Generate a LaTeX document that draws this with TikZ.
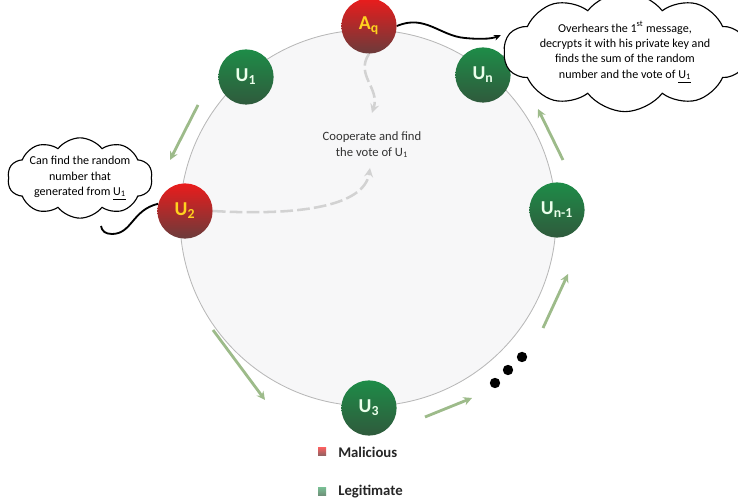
\documentclass[tikz,border=0pt]{standalone}
\usepackage{fontspec}
\setmainfont{Carlito}
\usetikzlibrary{shapes.symbols,arrows.meta,positioning}

\definecolor{usrtop}{HTML}{1E8C48}
\definecolor{usrbot}{HTML}{2F5A3C}
\definecolor{badtop}{HTML}{EA1C1C}
\definecolor{badbot}{HTML}{6B3B3B}
\definecolor{labyellow}{HTML}{FFD21F}
\definecolor{flowgreen}{HTML}{9DBB8A}
\definecolor{ringfill}{HTML}{F7F7F8}
\definecolor{ringline}{HTML}{B8B8B8}
\definecolor{hint}{HTML}{D2D2D2}

\tikzset{
  usr/.style={circle, minimum size=1.38cm, inner sep=0pt, shading=axis,
    top color=usrtop, bottom color=usrbot, text=white!92!green,
    font=\fontsize{14}{16}\selectfont\bfseries},
  bad/.style={usr, top color=badtop, bottom color=badbot, text=labyellow},
  flow/.style={-{Stealth[length=6pt,width=6pt]}, line width=2pt, draw=flowgreen},
  note/.style={cloud, cloud puffs=10, cloud puff arc=105, cloud ignores aspect,
    draw=black, line width=0.8pt, fill=white, align=center, inner sep=0pt,
    font=\fontsize{8.6}{11}\selectfont},
  dot/.style={circle, fill=black, minimum size=0.26cm, inner sep=0pt},
  key/.style={rectangle, minimum size=0.2cm, inner sep=0pt, shading=axis}
}

\begin{document}
\begin{tikzpicture}[x=0.025cm, y=-0.025cm, >=stealth]
\useasboundingbox (0,0) rectangle (738,503);
% ring
\draw[fill=ringfill, draw=ringline, line width=0.6pt] (368,218) circle [radius=4.7cm];
% users on the ring
\node (aq) at (369,26) [bad] {A\textsubscript{q}};
\node (u1) at (246,77) [usr] {U\textsubscript{1}};
\node (un) at (483,75) [usr] {U\textsubscript{n}};
\node (u2) at (185,211) [bad] {U\textsubscript{2}};
\node (unm) at (557,210) [usr] {U\textsubscript{n-1}};
\node (u3) at (369,408) [usr] {U\textsubscript{3}};
\node (d1) at (495,383) [dot] {};
\node (d2) at (508,370) [dot] {};
\node (d3) at (522,357) [dot] {};
% arrow ends
\coordinate (f1s) at (198,105); \coordinate (f1e) at (170,160);
\coordinate (f2s) at (213,330); \coordinate (f2e) at (265,400);
\coordinate (f3s) at (425,417); \coordinate (f3e) at (472,398);
\coordinate (f4s) at (543,328); \coordinate (f4e) at (568,274);
\coordinate (f5s) at (563,160); \coordinate (f5e) at (538,109);
\draw[flow] (f1s) -- (f1e);
\draw[flow] (f2s) -- (f2e);
\draw[flow] (f3s) -- (f3e);
\draw[flow] (f4s) -- (f4e);
\draw[flow] (f5s) -- (f5e);
% notes
\node (noteaq) at (625,52) [note, minimum width=5.15cm, minimum height=1.95cm]
  {Overhears the 1\textsuperscript{st} message,\\decrypts it with his private key and\\finds the sum of the random\\number and the vote of \underline{U\textsubscript{1}}};
\node (noteu2) at (80,178) [note, minimum width=3.45cm, minimum height=1.22cm]
  {Can find the random\\number that\\generated from \underline{U\textsubscript{1}}};
\coordinate (aqtip) at (501,35);
\draw[-{Stealth[length=5pt,width=4pt]}, line width=1.3pt] (aq.east) .. controls (425,14) and (440,36) .. (465,38) .. controls (485,40) and (494,38) .. (aqtip);
\coordinate (u2tail) at (101,226);
\draw[line width=1.3pt] (u2.165) .. controls (132,210) and (132,234) .. (112,234) .. controls (105,234) and (102,231) .. (u2tail);
% collusion
\node (coop) at (372,145) [align=center, font=\fontsize{9}{11}\selectfont, text=black!80] {Cooperate and find\\the vote of U\textsubscript{1}};
\coordinate (cooptip) at (370,168);
\coordinate (aqdrop) at (372,113);
\draw[->, hint, line width=1.8pt, dash pattern=on 9pt off 3pt] (u2.east) .. controls (300,216) and (364,206) .. (cooptip);
\draw[->, hint, line width=1.8pt, dash pattern=on 9pt off 3pt] (aq.south) .. controls (355,75) and (380,88) .. (aqdrop);
% legend
\node (kmal) at (322,452) [key, top color=badtop!70, bottom color=badbot!80] {};
\node (tmal) [right=5pt of kmal, font=\fontsize{10.5}{12}\selectfont\bfseries, text=black!85] {Malicious};
\node (kleg) at (322,492) [key, top color=usrtop!60, bottom color=usrbot!70] {};
\node (tleg) [right=5pt of kleg, font=\fontsize{10.5}{12}\selectfont\bfseries, text=black!85] {Legitimate};
\end{tikzpicture}
\end{document}
